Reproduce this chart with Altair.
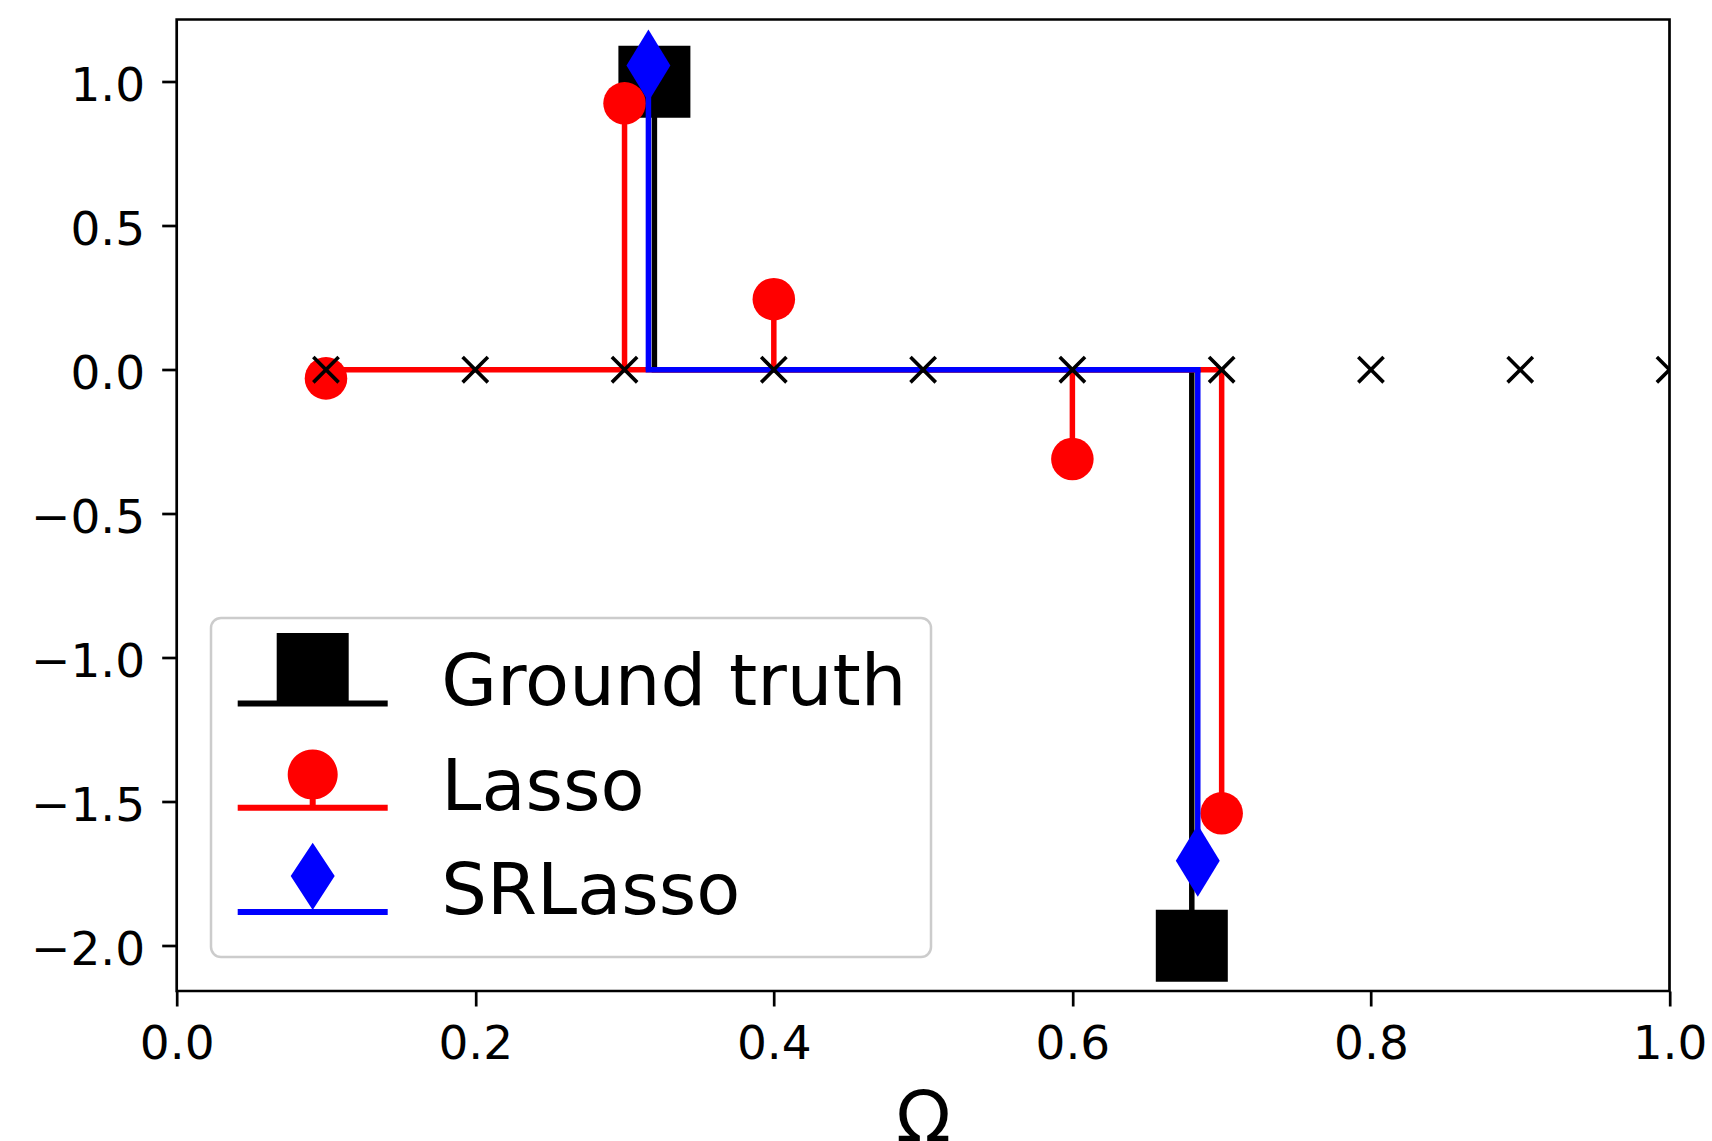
import altair as alt
import pandas as pd

# ---- data ----
grid_x = [0.1, 0.2, 0.3, 0.4, 0.5, 0.6, 0.7, 0.8, 0.9, 1.0]
grid_y = [0.0] * 10

gt_x = [0.32, 0.68]
gt_y = [1.0, -2.0]

lasso_x = [0.1, 0.3, 0.4, 0.6, 0.7]
lasso_y = [-0.03, 0.925, 0.245, -0.31, -1.54]

sr_x = [0.316, 0.684]
sr_y = [1.056, -1.705]

series_names = ["Ground truth", "Lasso", "SRLasso"]
series_colors = ["#000000", "#ff0000", "#0000ff"]

x_ticks = [0.0, 0.2, 0.4, 0.6, 0.8, 1.0]
y_ticks = [-2.0, -1.5, -1.0, -0.5, 0.0, 0.5, 1.0]

# ---- layout ----
W, H = 1492.8, 971.5
FONT = "DejaVu Sans"

xs = alt.Scale(domain=[0, 1], nice=False, zero=False)
ys = alt.Scale(domain=[-2.157, 1.216], nice=False, zero=False)

xaxis = alt.Axis(values=x_ticks, format=".1f", title="Ω", titleFont=FONT, titleFontSize=72,
                 titleFontWeight="normal", titleColor="black", titleBaseline="alphabetic",
                 titleAlign="center", titleX=W / 2, titleY=150.5,
                 labelFont=FONT, labelFontSize=47, labelColor="black", labelPadding=15,
                 labelFlush=False, labelOverlap=False,
                 tickSize=15, tickWidth=2.7, tickColor="black", domain=False, grid=False)
yaxis = alt.Axis(values=y_ticks, format=".1f", title=None,
                 labelFont=FONT, labelFontSize=47, labelColor="black", labelPadding=17,
                 labelOffset=5, labelFlush=False, labelOverlap=False,
                 tickSize=15, tickWidth=2.7, tickColor="black", domain=False, grid=False)


def X(f):
    return alt.X(f, type="quantitative", scale=xs, axis=xaxis)


def Y(f):
    return alt.Y(f, type="quantitative", scale=ys, axis=yaxis)


LW = 5.5


def stem_layers(xv, yv, color, shape, size):
    df = pd.DataFrame({"x": xv, "y": yv})
    base = alt.Chart(df)
    stems = base.mark_rule(color=color, strokeWidth=LW, strokeCap="butt").encode(
        x=X("x"), y=Y("y"), y2=alt.datum(0))
    markers = base.mark_point(shape=shape, size=size, filled=True, color=color,
                              opacity=1, strokeWidth=0, clip=True).encode(x=X("x"), y=Y("y"))
    baseline = base.transform_aggregate(xmin="min(x)", xmax="max(x)").mark_rule(
        color=color, strokeWidth=LW, strokeCap="square").encode(
        x=X("xmin"), x2="xmax:Q", y=alt.datum(0))
    return [stems, markers, baseline]


thin_diamond = "M0,-1L0.61,0L0,1L-0.61,0Z"
layers = []
layers += stem_layers(gt_x, gt_y, "#000000", "square", 5184)
layers += stem_layers(lasso_x, lasso_y, "#ff0000", "circle", 1810)
layers += stem_layers(sr_x, sr_y, "#0000ff", thin_diamond, 5184)

grid_df = pd.DataFrame({"x": grid_x, "y": grid_y})
crosses = alt.Chart(grid_df).mark_point(
    shape="M-1,-1L1,1M-1,1L1,-1", size=640, filled=False, color="black",
    strokeWidth=3.6, opacity=1, clip=True).encode(x=X("x"), y=Y("y"))
layers.append(crosses)

# ---- legend (composite symbols: marker + stem + baseline) ----
# 1 unit = 50 px (symbolSize 10000); the leading move-to points only widen the box
BOX = "M0,0.974M12.05,0"
LINE = "M-1.5,0.34L1.5,0.34L1.5,0.46L-1.5,0.46Z"
gt_sym = BOX + "M-0.72,-1.008L0.72,-1.008L0.72,0.375L-0.72,0.375Z" + LINE
lasso_sym = (BOX + "M-0.5,-0.2625A0.5,0.5 0 1,1 0.5,-0.2625"
             "A0.5,0.5 0 1,1 -0.5,-0.2625Z"
             "M-0.06,0.15L0.06,0.15L0.06,0.375L-0.06,0.375Z" + LINE)
sr_sym = BOX + "M0,-0.984L0.44,-0.318L0,0.36L-0.44,-0.318Z" + LINE
legend_paths = [gt_sym, lasso_sym, sr_sym]

leg = dict(orient="none", legendX=34.3, legendY=598.5, title=None, padding=15.4,
           fillColor="rgba(255,255,255,0.8)", strokeColor="#cccccc", cornerRadius=10,
           labelFont=FONT, labelFontSize=72, labelColor="black", labelOffset=78.6,
           labelLimit=2000, symbolSize=10000, symbolStrokeWidth=0, symbolOpacity=1,
           symbolOffset=36.3, rowPadding=5.3)

legend_df = pd.DataFrame({"series": series_names, "x": [0.5] * 3, "y": [0.0] * 3})
carrier = alt.Chart(legend_df).transform_filter("false").mark_point(
    filled=True, opacity=1, size=10000).encode(
    x=X("x"), y=Y("y"),
    color=alt.Color("series:N", scale=alt.Scale(domain=series_names, range=series_colors),
                    legend=alt.Legend(**leg)),
    shape=alt.Shape("series:N", scale=alt.Scale(domain=series_names, range=legend_paths),
                    legend=alt.Legend(**leg)),
)
layers.append(carrier)

chart = alt.layer(*layers).properties(
    width=W, height=H,
    padding={"left": 176.7, "top": 19.5, "right": 42.5, "bottom": 150},
    autosize=alt.AutoSizeParams(type="none"),
    background="white",
).configure_view(stroke="black", strokeWidth=2.7).configure_legend(strokeWidth=2.5)

chart.save("out.html", embed_options={"renderer": "svg", "actions": False})
